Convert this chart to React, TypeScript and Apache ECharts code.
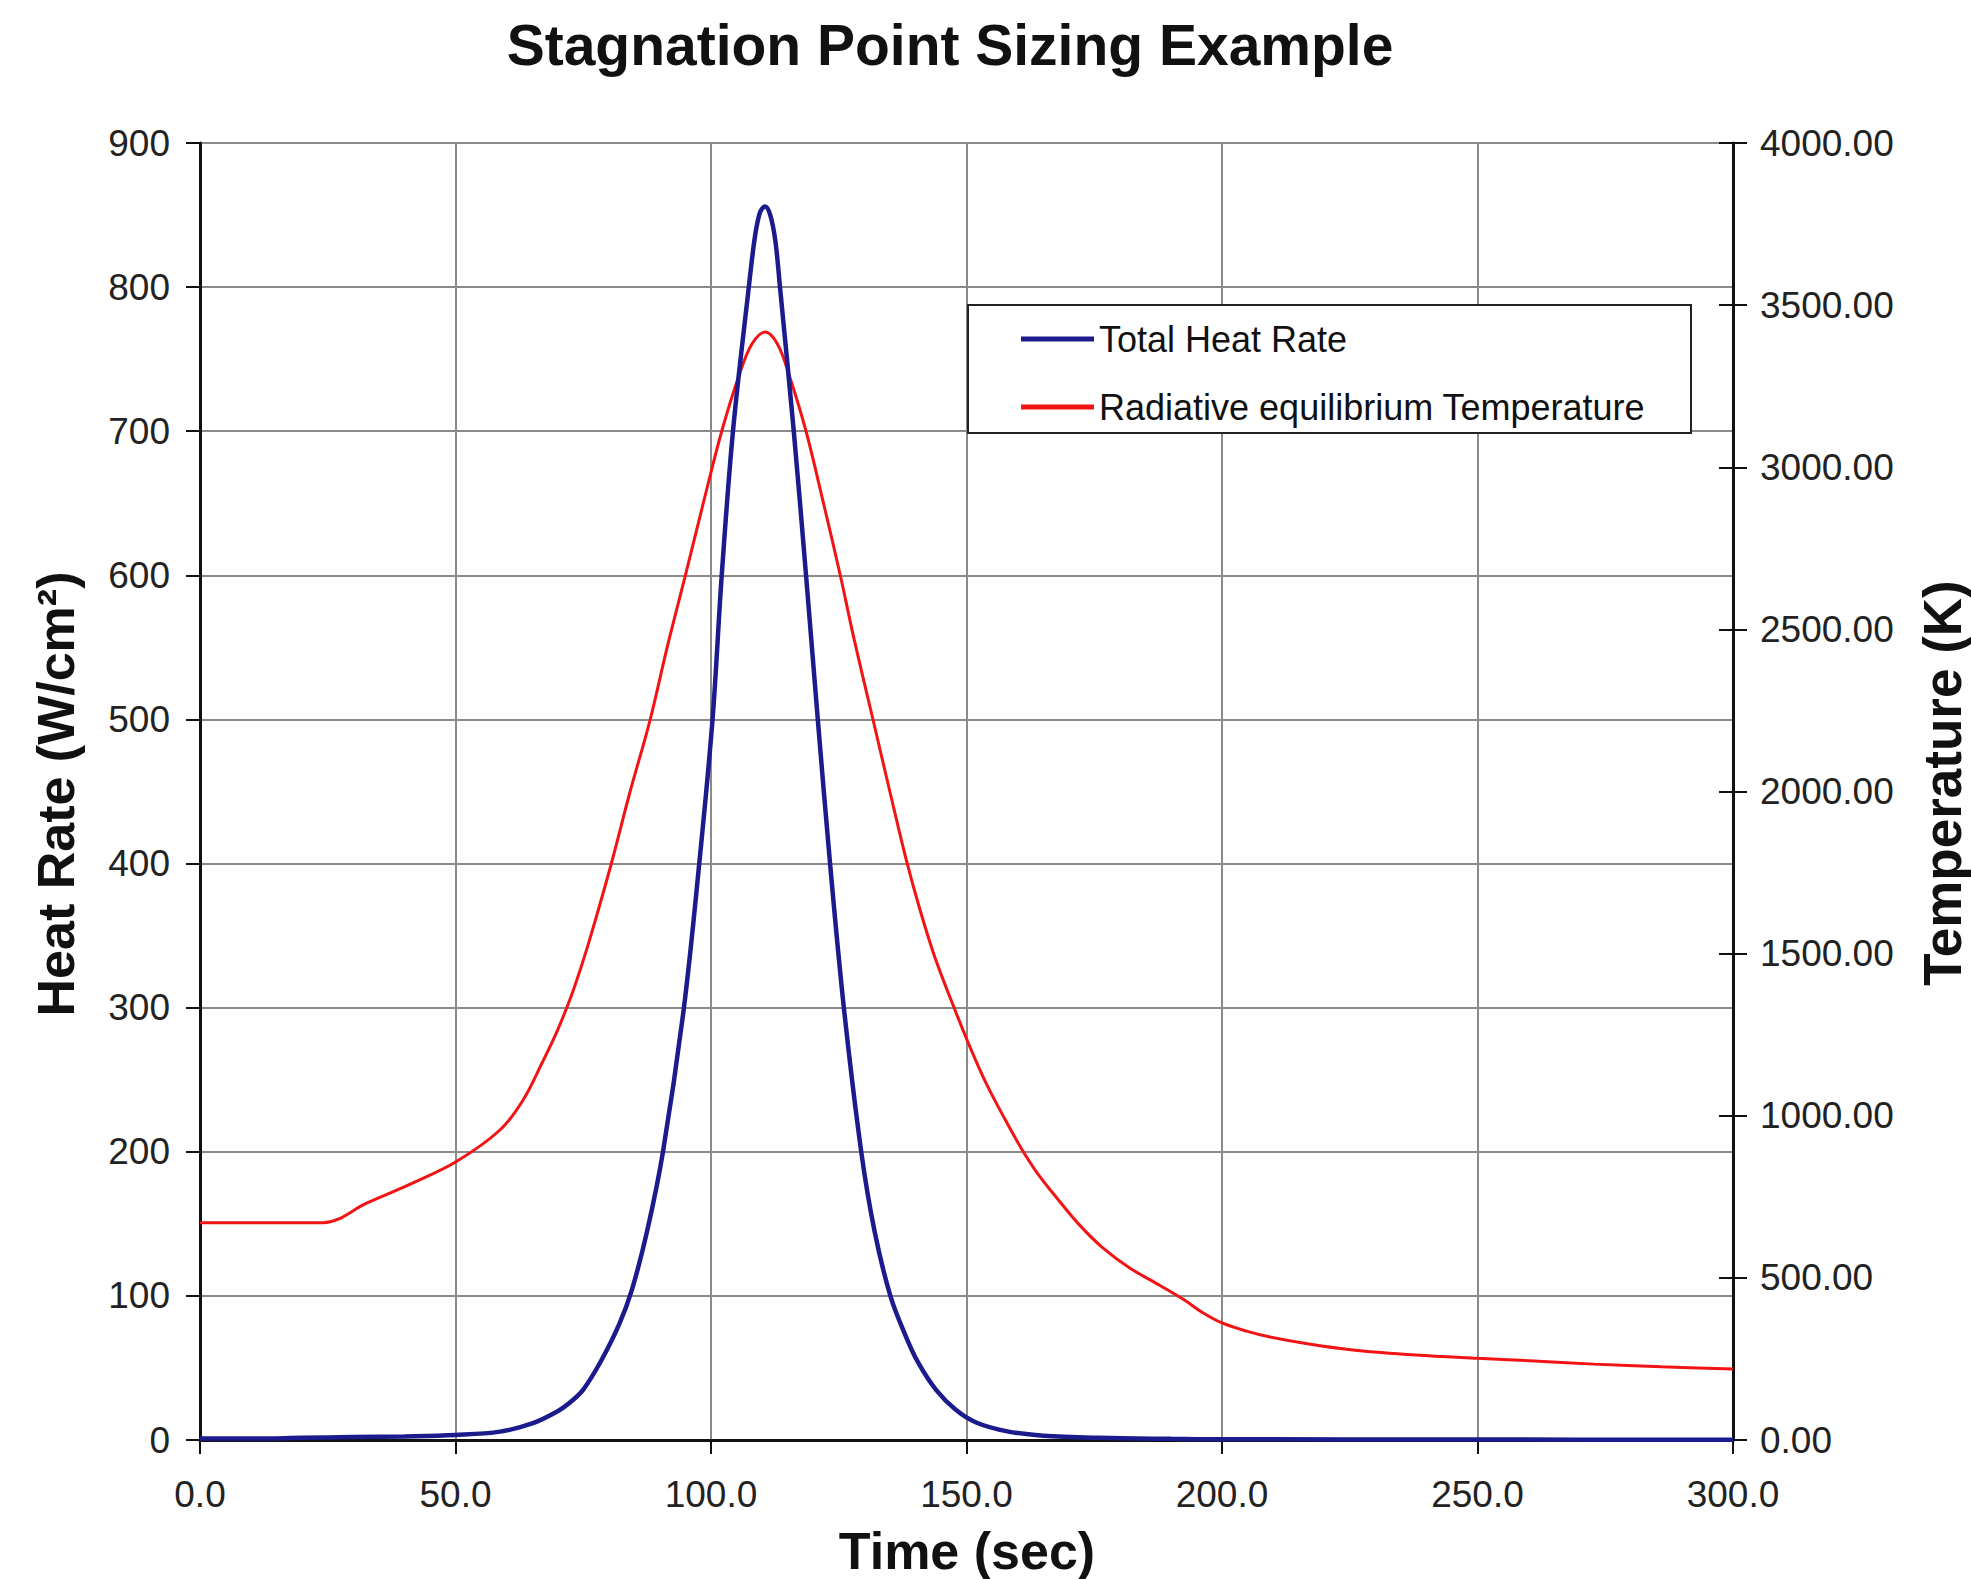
import React, { useEffect, useRef } from "react";
import * as echarts from "echarts";

const TITLE = "Stagnation Point Sizing Example";
const X_NAME = "Time (sec)";
const Y_LEFT_NAME = "Heat Rate (W/cm²)";
const Y_RIGHT_NAME = "Temperature (K)";
const SERIES_NAMES = ["Total Heat Rate", "Radiative equilibrium Temperature"];

// Total heat rate (W/cm^2)
const HEAT_TIME = [
  0, 10, 20, 30, 40, 50, 58.7, 65, 70, 72.4, 75, 78.5, 82, 84.5, 87.5, 90.6, 94.7, 97.7,
  100.3, 102.1, 104.3, 107.4, 108.6, 109.6, 110.6, 111.6, 112.6, 113.5, 116.2, 118.6,
  120.9, 123.3, 126, 129.4, 132, 135.1, 138, 140.5, 144, 147.9, 152, 158, 165, 176, 190,
  200, 250, 300,
];
const HEAT_RATE = [
  1, 1, 1.5, 2, 2.5, 3.5, 5.8, 11.5, 20, 26, 35, 55, 80, 104, 145, 200, 300, 400,
  500, 600, 700, 800, 835, 852, 856, 850, 832, 800, 700, 600,
  500, 400, 300, 200, 145, 100, 73, 54, 35, 21, 12, 6, 3, 1.5, 0.8,
  0.5, 0.3, 0.2,
];

// Radiative equilibrium temperature (K)
const TEMP_TIME = [
  0, 24.1, 32.7, 41.7, 50.1, 58.7, 63.2, 67, 70, 73, 76, 80.5, 84, 88.1, 91.5, 95, 98.5,
  102.1, 105.5, 108, 110.6, 113, 115.3, 118.6, 122, 125.3, 128, 131.7, 135, 138.2, 141,
  144, 147.9, 151, 154, 157.5, 160.7, 164, 168, 172, 176.5, 182, 187.7, 192.8, 196, 200,
  205, 209, 217, 226, 238, 250, 262, 272.8, 286, 300,
];
const TEMPERATURE = [
  670, 670, 731, 793, 858, 956, 1048, 1165, 1265, 1385, 1530, 1778, 1990, 2222, 2450, 2667,
  2890, 3111, 3284, 3380, 3417, 3380, 3284, 3111, 2890, 2667, 2470, 2222, 2000, 1790, 1630,
  1480, 1320, 1200, 1095, 990, 900, 820, 740, 665, 595, 530, 478, 430, 395, 361,
  335, 319, 296, 277, 262, 252, 243, 234, 226, 219,
];

const FONT = "'Liberation Sans', Arial, Helvetica, sans-serif";
const BLUE = "#1b1b8e";
const RED = "#f21414";

export default function App() {
  const ref = useRef<HTMLDivElement>(null);

  useEffect(() => {
    if (!ref.current) return;
    const chart = echarts.init(ref.current, undefined, { renderer: "svg" });

    const heatData = HEAT_TIME.map((t, i) => [t, HEAT_RATE[i]]);
    const tempData = TEMP_TIME.map((t, i) => [t, TEMPERATURE[i]]);

    const labelStyle = { fontFamily: FONT, fontSize: 37, color: "#222" };

    chart.setOption({
      animation: false,
      backgroundColor: "#ffffff",
      grid: { left: 200, right: 238, top: 143, bottom: 139, containLabel: false },
      xAxis: {
        type: "value",
        min: 0,
        max: 300,
        interval: 50,
        axisLine: { show: true, onZero: false, lineStyle: { color: "#111", width: 3 } },
        axisTick: { show: true, length: 14, lineStyle: { color: "#111", width: 2 } },
        axisLabel: { ...labelStyle, margin: 36, formatter: (v: number) => v.toFixed(1) },
        splitLine: { show: true, lineStyle: { color: "#8a8a8a", width: 2 } },
      },
      yAxis: [
        {
          type: "value",
          position: "left",
          min: 0,
          max: 900,
          interval: 100,
          axisLine: { show: true, lineStyle: { color: "#111", width: 3 } },
          axisTick: { show: true, length: 14, lineStyle: { color: "#111", width: 2 } },
          axisLabel: { ...labelStyle, margin: 30 },
          splitLine: { show: true, lineStyle: { color: "#8a8a8a", width: 2 } },
        },
        {
          type: "value",
          position: "right",
          min: 0,
          max: 4000,
          interval: 500,
          axisLine: { show: true, lineStyle: { color: "#111", width: 3 } },
          axisTick: { show: true, length: 14, lineStyle: { color: "#111", width: 2 } },
          axisLabel: { ...labelStyle, margin: 27, formatter: (v: number) => v.toFixed(2) },
          splitLine: { show: false },
        },
        {
          type: "value",
          position: "right",
          min: 0,
          max: 4000,
          interval: 500,
          axisLine: { show: false },
          axisTick: { show: true, inside: true, length: 14, lineStyle: { color: "#111", width: 2 } },
          axisLabel: { show: false },
          splitLine: { show: false },
        },
      ],
      legend: {
        data: SERIES_NAMES,
        orient: "vertical",
        left: 1021,
        top: 321,
        padding: 0,
        itemGap: 32,
        itemWidth: 73,
        itemHeight: 5,
        icon: "rect",
        z: 6,
        textStyle: { fontFamily: FONT, fontSize: 36, color: "#111" },
      },
      graphic: [
        {
          type: "rect",
          z: 5,
          shape: { x: 968, y: 305, width: 723, height: 128 },
          style: { fill: "#ffffff", stroke: "#222", lineWidth: 2 },
        },
        {
          type: "text",
          x: 950,
          y: 45,
          style: {
            text: TITLE,
            fontFamily: FONT,
            fontSize: 57,
            fontWeight: "bold",
            fill: "#111",
            align: "center",
            verticalAlign: "middle",
          },
        },
        {
          type: "text",
          x: 967,
          y: 1551,
          style: {
            text: X_NAME,
            fontFamily: FONT,
            fontSize: 52,
            fontWeight: "bold",
            fill: "#111",
            align: "center",
            verticalAlign: "middle",
          },
        },
        {
          type: "text",
          x: 56,
          y: 794,
          rotation: Math.PI / 2,
          style: {
            text: Y_LEFT_NAME,
            fontFamily: FONT,
            fontSize: 52,
            fontWeight: "bold",
            fill: "#111",
            align: "center",
            verticalAlign: "middle",
          },
        },
        {
          type: "text",
          x: 1942,
          y: 783,
          rotation: Math.PI / 2,
          style: {
            text: Y_RIGHT_NAME,
            fontFamily: FONT,
            fontSize: 53,
            fontWeight: "bold",
            fill: "#111",
            align: "center",
            verticalAlign: "middle",
          },
        },
      ],
      series: [
        {
          name: SERIES_NAMES[0],
          type: "line",
          yAxisIndex: 0,
          data: heatData,
          showSymbol: false,
          smooth: 0.35,
          lineStyle: { color: BLUE, width: 4.5 },
          itemStyle: { color: BLUE },
          z: 3,
        },
        {
          name: SERIES_NAMES[1],
          type: "line",
          yAxisIndex: 1,
          data: tempData,
          showSymbol: false,
          smooth: 0.35,
          lineStyle: { color: RED, width: 3 },
          itemStyle: { color: RED },
          z: 2,
        },
      ],
    });

    return () => chart.dispose();
  }, []);

  return (
    <div
      ref={ref}
      style={{ position: "absolute", left: 0, top: 0, width: 1971, height: 1579 }}
    />
  );
}
